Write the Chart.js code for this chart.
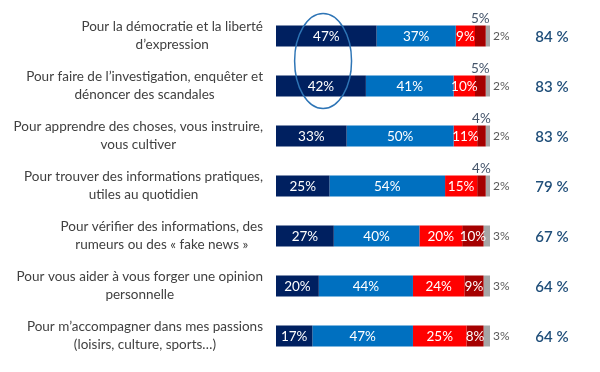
<!DOCTYPE html>
<html>
<head>
<meta charset="utf-8">
<script src="https://cdn.jsdelivr.net/npm/chart.js@4"></script>
<style>
html,body{margin:0;padding:0;background:#fff;overflow:hidden;}
#wrap{position:relative;width:600px;height:372px;}
</style>
</head>
<body>
<div id="wrap"><canvas id="c" width="600" height="372"></canvas></div>
<script>
const categories = [
  ["Pour la démocratie et la liberté", "d’expression"],
  ["Pour faire de l’investigation, enquêter et", "dénoncer des scandales"],
  ["Pour apprendre des choses, vous instruire,", "vous cultiver"],
  ["Pour trouver des informations pratiques,", "utiles au quotidien"],
  ["Pour vérifier des informations, des", "rumeurs ou des « fake news »"],
  ["Pour vous aider à vous forger une opinion", "personnelle"],
  ["Pour m’accompagner dans mes passions", "(loisirs, culture, sports…)"]
];
const tresUtile   = [47, 42, 33, 25, 27, 20, 17];
const plutotUtile = [37, 41, 50, 54, 40, 44, 47];
const plutotPas   = [9, 10, 11, 15, 20, 24, 25];
const pasDuTout   = [5, 5, 4, 4, 10, 9, 8];
const nsp         = [2, 2, 2, 2, 3, 3, 3];
const totals      = [84, 83, 83, 79, 67, 64, 64];
const totalLabels = totals.map(v => v + " %");

const colors = ["#002060", "#0070c0", "#ff0000", "#a50000", "#a6a6a6"];
const FONT = "Lato, 'Open Sans', sans-serif";

const labelPlugin = {
  id: "labels",
  afterDatasetsDraw(chart) {
    const ctx = chart.ctx;
    const xs = chart.scales.x, ys = chart.scales.y;
    ctx.save();
    // category labels
    ctx.fillStyle = "#404040";
    ctx.font = "13.5px " + FONT;
    ctx.textBaseline = "middle";
    ctx.textAlign = "center";
    categories.forEach((lines, i) => {
      const cy = ys.getPixelForValue(i);
      const w = Math.max(...lines.map(l => ctx.measureText(l).width));
      const cx = xs.left - 13 - w / 2;
      const lh = 18;
      lines.forEach((l, k) => {
        ctx.fillText(l, cx, cy + (k - (lines.length - 1) / 2) * lh);
      });
    });
    // segment labels
    chart.data.datasets.forEach((ds, di) => {
      const meta = chart.getDatasetMeta(di);
      meta.data.forEach((el, j) => {
        const v = ds.data[j];
        const x0 = Math.min(el.x, el.base), x1 = Math.max(el.x, el.base);
        const mid = (x0 + x1) / 2;
        const top = el.y - el.height / 2;
        if (di <= 2 || (di === 3 && v >= 8)) {
          ctx.fillStyle = "#ffffff";
          ctx.font = "13.5px " + FONT;
          ctx.textAlign = "center";
          ctx.fillText(v + "%", mid, el.y + 0.5);
        } else if (di === 3) {
          ctx.fillStyle = "#44546a";
          ctx.font = "13.5px " + FONT;
          ctx.textAlign = "center";
          ctx.fillText(v + "%", mid, top - 7);
        } else {
          ctx.fillStyle = "#595959";
          ctx.font = "12px " + FONT;
          ctx.textAlign = "left";
          ctx.fillText(v + "%", x1 + 3, el.y);
        }
      });
    });
    // totals
    ctx.fillStyle = "#1f4e79";
    ctx.font = "600 15px " + FONT;
    ctx.textAlign = "center";
    totalLabels.forEach((t, i) => {
      ctx.fillText(t, chart.chartArea.right + 62, ys.getPixelForValue(i) + 1);
    });
    // highlight ellipse around the first two "très utile" values
    const y0 = ys.getPixelForValue(0), y1 = ys.getPixelForValue(1);
    const cx = xs.getPixelForValue(22);
    const rx = xs.getPixelForValue(13.3) - xs.getPixelForValue(0);
    const ry = (y1 - y0) * 0.95;
    ctx.strokeStyle = "#2e75b6";
    ctx.lineWidth = 1.5;
    ctx.beginPath();
    ctx.ellipse(cx, (y0 + y1) / 2, rx, ry, 0, 0, Math.PI * 2);
    ctx.stroke();
    ctx.restore();
  }
};

const series = [tresUtile, plutotUtile, plutotPas, pasDuTout, nsp];
new Chart(document.getElementById("c"), {
  type: "bar",
  data: {
    labels: categories.map(c => c.join(" ")),
    datasets: series.map((d, i) => ({
      data: d,
      backgroundColor: colors[i],
      borderWidth: 0,
      categoryPercentage: 1,
      barPercentage: 0.42
    }))
  },
  options: {
    indexAxis: "y",
    responsive: false,
    animation: false,
    layout: { padding: { left: 276, right: 110, top: 11, bottom: 11 } },
    plugins: { legend: { display: false }, tooltip: { enabled: false } },
    scales: {
      x: { stacked: true, min: 0, max: 100, display: false },
      y: { stacked: true, display: false }
    }
  },
  plugins: [labelPlugin]
});
</script>
</body>
</html>
